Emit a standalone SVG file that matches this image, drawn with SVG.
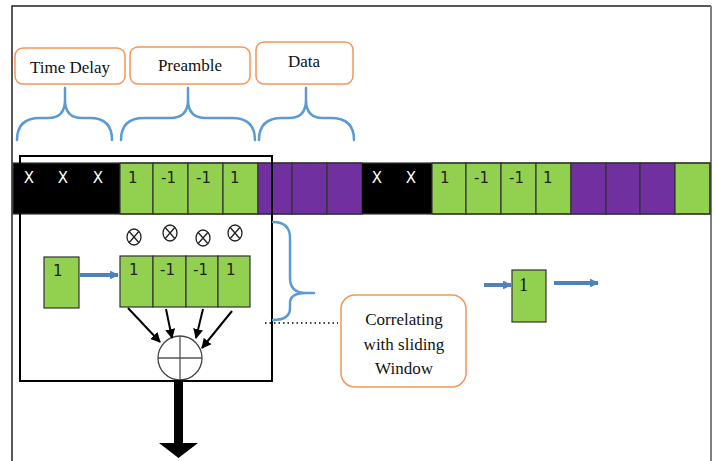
<svg xmlns="http://www.w3.org/2000/svg" width="716" height="461" viewBox="0 0 716 461">
  <style>
    .label { fill: #fff; stroke: #f4955a; stroke-width: 1.5; }
    .lbl-text { font-family: "Liberation Serif", "Times New Roman", serif; font-size: 17px; fill: #111; text-anchor: middle; }
    .brace { fill: none; stroke: #5b9bd5; stroke-width: 2.5; stroke-linecap: round; }
    .g { fill: #92d050; stroke: #333; stroke-width: 1.2; }
    .p { fill: #7030a0; stroke: #333; stroke-width: 1.2; }
    .k { fill: #000; }
    .num { font-family: "DejaVu Sans", "Liberation Sans", sans-serif; font-size: 15px; fill: #222; }
    .xw { font-family: "DejaVu Sans", "Liberation Sans", sans-serif; font-size: 15px; fill: #fff; text-anchor: middle; }
    .blue { fill: none; stroke: #4f81bd; stroke-width: 4; }
    .blk { fill: none; stroke: #000; stroke-width: 2; }
  </style>
  <defs>
    <marker id="bhead" viewBox="0 0 10 10" refX="9" refY="5" markerWidth="2.2" markerHeight="2.2" orient="auto" markerUnits="strokeWidth">
      <path d="M0,0 L10,5 L0,10 z" fill="#4f81bd"/>
    </marker>
    <marker id="khead" viewBox="0 0 10 10" refX="9" refY="5" markerWidth="5" markerHeight="5" orient="auto" markerUnits="strokeWidth">
      <path d="M0,0 L10,5 L0,10 z" fill="#000"/>
    </marker>
    <g id="mul">
      <ellipse cx="0" cy="0" rx="7" ry="8" fill="#fff" stroke="#222" stroke-width="1.3"/>
      <path d="M-5,-5.7 L5,5.7 M5,-5.7 L-5,5.7" stroke="#222" stroke-width="1.3"/>
    </g>
  </defs>

  <!-- page frame -->
  <g id="frame">
    <path d="M12,461 V6 H711" fill="none" stroke="#222" stroke-width="1.5"/>
    <path d="M711,6 V461" fill="none" stroke="#808080" stroke-width="2"/>
  </g>

  <!-- field labels -->
  <g id="label-time-delay">
    <rect class="label" x="15" y="48" width="110" height="36" rx="8"/>
    <text class="lbl-text" x="70" y="73">Time Delay</text>
  </g>
  <g id="label-preamble">
    <rect class="label" x="130" y="47" width="120" height="37" rx="8"/>
    <text class="lbl-text" x="190" y="71">Preamble</text>
  </g>
  <g id="label-data">
    <rect class="label" x="256" y="42" width="97" height="42" rx="8"/>
    <text class="lbl-text" x="304" y="67">Data</text>
  </g>

  <!-- braces under the labels -->
  <g id="braces">
    <path class="brace" d="M17,140 Q17,118 40,118 H48 Q65,118 65,100 V88 M65,100 Q65,118 82,118 H90 Q112,118 112,140"/>
    <path class="brace" d="M121,140 Q121,118 144,118 H170 Q188,118 188,100 V88 M188,100 Q188,118 206,118 H232 Q255,118 255,140"/>
    <path class="brace" d="M259,140 Q259,118 282,118 H289 Q306,118 306,100 V88 M306,100 Q306,118 323,118 H331 Q354,118 354,140"/>
  </g>

  <!-- received frame stream -->
  <g id="stream">
    <rect class="k" x="13" y="163" width="107" height="51"/>
    <rect class="g" x="120" y="163" width="33" height="51"/>
    <rect class="g" x="153" y="163" width="35" height="51"/>
    <rect class="g" x="188" y="163" width="35" height="51"/>
    <rect class="g" x="223" y="163" width="35" height="51"/>
    <rect class="p" x="258" y="163" width="34" height="51"/>
    <rect class="p" x="292" y="163" width="35" height="51"/>
    <rect class="p" x="327" y="163" width="35" height="51"/>
    <rect class="k" x="362" y="163" width="70" height="51"/>
    <rect class="g" x="432" y="163" width="34" height="51"/>
    <rect class="g" x="466" y="163" width="35" height="51"/>
    <rect class="g" x="501" y="163" width="35" height="51"/>
    <rect class="g" x="536" y="163" width="35" height="51"/>
    <rect class="p" x="571" y="163" width="35" height="51"/>
    <rect class="p" x="606" y="163" width="34" height="51"/>
    <rect class="p" x="640" y="163" width="35" height="51"/>
    <rect class="g" x="675" y="163" width="35" height="51"/>
    <rect x="13" y="163" width="697" height="51" fill="none" stroke="#333" stroke-width="1.2"/>
    <text class="xw" x="29" y="183">X</text>
    <text class="xw" x="63" y="183">X</text>
    <text class="xw" x="98" y="183">X</text>
    <text class="num" x="128" y="183">1</text>
    <text class="num" x="161" y="183">-1</text>
    <text class="num" x="196" y="183">-1</text>
    <text class="num" x="230" y="183">1</text>
    <text class="xw" x="377" y="183">X</text>
    <text class="xw" x="411" y="183">X</text>
    <text class="num" x="440" y="183">1</text>
    <text class="num" x="474" y="183">-1</text>
    <text class="num" x="509" y="183">-1</text>
    <text class="num" x="543" y="183">1</text>
  </g>

  <!-- correlator window -->
  <g id="window">
    <rect x="20" y="156" width="252" height="225" fill="none" stroke="#000" stroke-width="2"/>
  </g>

  <g id="multipliers">
    <use href="#mul" x="134" y="237"/>
    <use href="#mul" x="170" y="233"/>
    <use href="#mul" x="203" y="238"/>
    <use href="#mul" x="235" y="233"/>
  </g>

  <g id="input-sample">
    <rect class="g" x="44" y="257" width="35" height="51"/>
    <text class="num" x="53" y="276">1</text>
  </g>

  <g id="reference-register">
    <rect class="g" x="120" y="256" width="33" height="51"/>
    <rect class="g" x="153" y="256" width="33" height="51"/>
    <rect class="g" x="186" y="256" width="32" height="51"/>
    <rect class="g" x="218" y="256" width="32" height="51"/>
    <text class="num" x="129" y="275">1</text>
    <text class="num" x="160" y="275">-1</text>
    <text class="num" x="193" y="275">-1</text>
    <text class="num" x="226" y="275">1</text>
  </g>

  <g id="adder">
    <circle cx="180" cy="358" r="22" fill="#fff" stroke="#444" stroke-width="1.3"/>
    <path d="M158,358 H202 M180,336 V380" stroke="#555" stroke-width="1.3"/>
  </g>

  <!-- sliding-window brace and note -->
  <g id="window-brace">
    <path class="brace" d="M273,222 Q290,222 290,238 V278 Q290,293 306,293 H314 M306,293 Q290,293 290,303 V308 Q290,320 273,320"/>
  </g>

  <g id="note-correlating">
    <rect class="label" x="341" y="295" width="125" height="92" rx="14"/>
    <text class="lbl-text" x="404" y="325">Correlating</text>
    <text class="lbl-text" x="404" y="350">with sliding</text>
    <text class="lbl-text" x="404" y="374">Window</text>
  </g>

  <g id="output-sample">
    <rect class="g" x="512" y="270" width="34" height="52"/>
    <text x="519" y="291" font-family="Liberation Serif, serif" font-size="18" fill="#111">1</text>
  </g>

  <!-- connectors -->
  <g id="connectors">
    <line class="blue" x1="80" y1="275" x2="118" y2="275" marker-end="url(#bhead)"/>
    <line class="blue" x1="484" y1="285" x2="511" y2="285" marker-end="url(#bhead)"/>
    <line class="blue" x1="554" y1="283" x2="598" y2="283" marker-end="url(#bhead)"/>
    <line class="blk" x1="128" y1="308" x2="160" y2="342" marker-end="url(#khead)"/>
    <line class="blk" x1="166" y1="309" x2="172" y2="338" marker-end="url(#khead)"/>
    <line class="blk" x1="203" y1="309" x2="196" y2="338" marker-end="url(#khead)"/>
    <line class="blk" x1="232" y1="311" x2="202" y2="348" marker-end="url(#khead)"/>
    <line x1="265" y1="323" x2="338" y2="323" stroke="#000" stroke-width="1.5" stroke-dasharray="1.5,3"/>
    <path d="M174,380 H183 V443 H198 L178.5,458 L159,443 H174 Z" fill="#000"/>
  </g>
</svg>
